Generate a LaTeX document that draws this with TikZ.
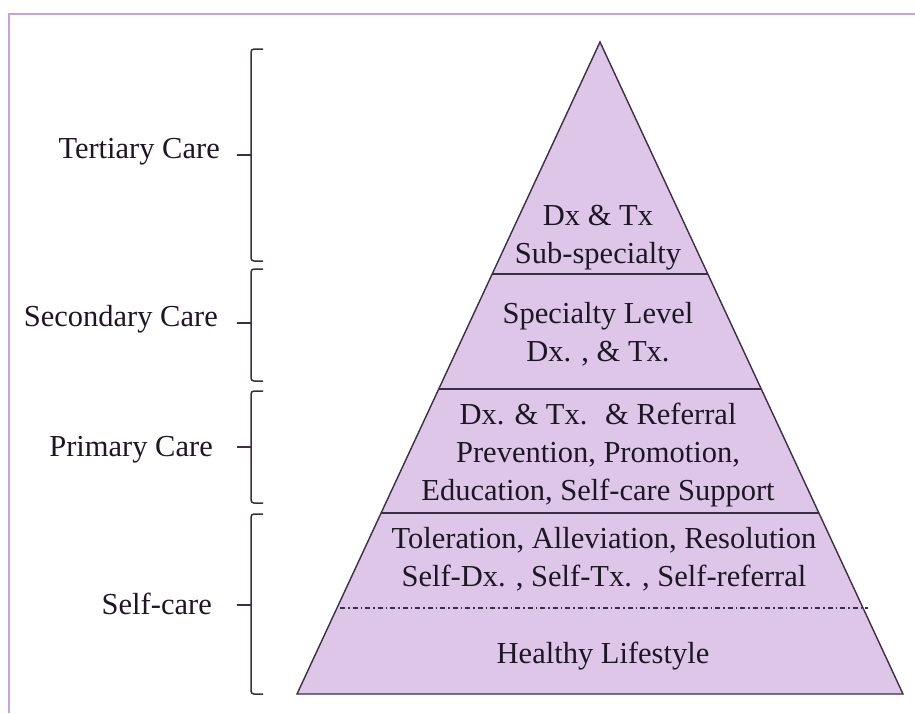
\documentclass[tikz,border=0pt]{standalone}
\usepackage{fontspec}
\setmainfont{Liberation Serif}
\usepackage{tikz}
\usetikzlibrary{positioning}

\definecolor{pyrfill}{HTML}{DDC6E8}
\definecolor{pyredge}{HTML}{3B2F48}
\definecolor{framecol}{HTML}{C9A0E2}
\definecolor{txtcol}{HTML}{1E1626}

\tikzset{
  level/.style={anchor=base east, text=txtcol, inner sep=0pt,
    font=\fontsize{30.5}{37}\selectfont},
  tier/.style={align=center, text=txtcol, inner sep=0pt,
    font=\fontsize{30.5}{38}\selectfont},
  brk/.style={draw=pyredge, line width=1.5pt, rounded corners=3pt}
}

\begin{document}
\begin{tikzpicture}[x=1pt,y=-1pt]
\useasboundingbox (0,0) rectangle (915,713);
\fill[white] (0,0) rectangle (915,713);

% frame
\draw[framecol, line width=2pt] (9,713) -- (9,14) -- (915,14);

% pyramid
\draw[fill=pyrfill, draw=pyredge, line width=1.4pt]
  (600,42) -- (903,694) -- (297,694) -- cycle;

\draw[pyredge, line width=1.4pt] (492,274) -- (708,274);
\draw[pyredge, line width=1.4pt] (439,389) -- (761,389);
\draw[pyredge, line width=1.4pt] (381,513) -- (819,513);
\draw[pyredge, line width=1.3pt, dash pattern=on 5pt off 3pt on 1.5pt off 3pt]
  (340,608) -- (868,608);

% tiers
\node[tier] (subspec) at (598,238) {Dx \& Tx\\Sub-specialty};
\node[tier] (spec) at (598,334) {Specialty Level\\Dx. , \& Tx.};
\node[tier] (prim) at (598,455) {Dx. \& Tx.~ \& Referral\\Prevention, Promotion,\\Education, Self-care Support};
\node[tier] (selfdx) at (604,559) {Toleration, Alleviation, Resolution\\Self-Dx. , Self-Tx. , Self-referral};
\node[tier] (healthy) at (603,656) {Healthy Lifestyle};

% levels
\node[level] (tert) at (220,158) {Tertiary Care};
\node[level] (second) at (218,326) {Secondary Care};
\node[level] (primary) at (213,456) {Primary Care};
\node[level] (selfcare) at (212,614) {Self-care};

% brackets
\foreach \top/\mid/\bot in {49/155/261, 269/323/381, 391/447/503, 514/605/694}{
  \draw[brk] (263,\top) -- (251,\top) -- (251,\bot) -- (263,\bot);
  \draw[pyredge, line width=1.5pt] (251,\mid) -- (237,\mid);
}
\end{tikzpicture}
\end{document}
